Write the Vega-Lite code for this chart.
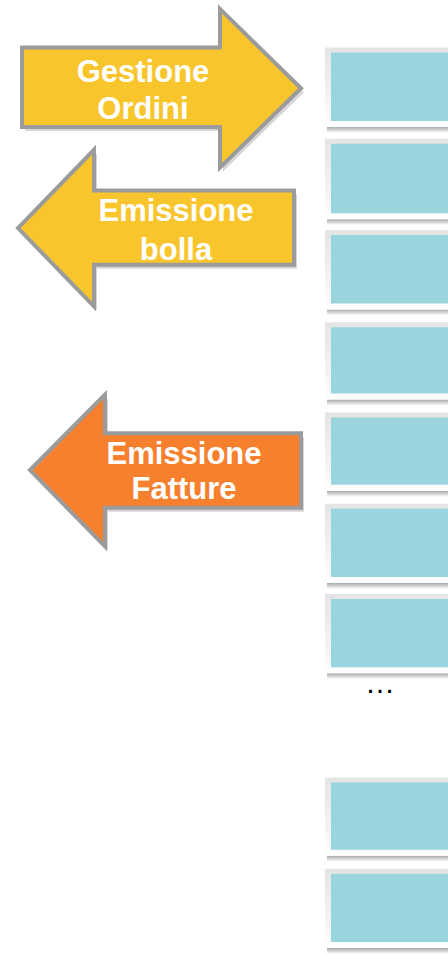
{
  "$schema": "https://vega.github.io/schema/vega-lite/v6.json",
  "width": 448,
  "height": 955,
  "padding": 0,
  "autosize": {"type": "fit", "contains": "padding"},
  "background": "#ffffff",
  "config": {"view": {"stroke": null}},
  "datasets": {
    "boxes": [
      {"box": 1, "top": 48, "bottom": 128},
      {"box": 2, "top": 140, "bottom": 221},
      {"box": 3, "top": 232, "bottom": 312},
      {"box": 4, "top": 325, "bottom": 403},
      {"box": 5, "top": 416, "bottom": 495},
      {"box": 6, "top": 508, "bottom": 588},
      {"box": 7, "top": 599, "bottom": 679},
      {"box": 8, "top": 784, "bottom": 863},
      {"box": 9, "top": 876, "bottom": 956}
    ],
    "arrows": [
      {"arrow": "Gestione Ordini", "i": 1, "x": 22, "y": 48},
      {"arrow": "Gestione Ordini", "i": 2, "x": 220, "y": 48},
      {"arrow": "Gestione Ordini", "i": 3, "x": 220, "y": 9},
      {"arrow": "Gestione Ordini", "i": 4, "x": 301, "y": 89},
      {"arrow": "Gestione Ordini", "i": 5, "x": 220, "y": 169},
      {"arrow": "Gestione Ordini", "i": 6, "x": 220, "y": 128},
      {"arrow": "Gestione Ordini", "i": 7, "x": 22, "y": 128},
      {"arrow": "Emissione bolla", "i": 1, "x": 18, "y": 230},
      {"arrow": "Emissione bolla", "i": 2, "x": 94, "y": 151},
      {"arrow": "Emissione bolla", "i": 3, "x": 94, "y": 192},
      {"arrow": "Emissione bolla", "i": 4, "x": 294, "y": 192},
      {"arrow": "Emissione bolla", "i": 5, "x": 294, "y": 267},
      {"arrow": "Emissione bolla", "i": 6, "x": 94, "y": 267},
      {"arrow": "Emissione bolla", "i": 7, "x": 94, "y": 309},
      {"arrow": "Emissione Fatture", "i": 1, "x": 30, "y": 474},
      {"arrow": "Emissione Fatture", "i": 2, "x": 105, "y": 398},
      {"arrow": "Emissione Fatture", "i": 3, "x": 105, "y": 437},
      {"arrow": "Emissione Fatture", "i": 4, "x": 301, "y": 437},
      {"arrow": "Emissione Fatture", "i": 5, "x": 301, "y": 512},
      {"arrow": "Emissione Fatture", "i": 6, "x": 105, "y": 512},
      {"arrow": "Emissione Fatture", "i": 7, "x": 105, "y": 551}
    ],
    "labels": [
      {"arrow": "Gestione Ordini", "label": "Gestione", "x": 143, "y": 83},
      {"arrow": "Gestione Ordini", "label": "Ordini", "x": 143, "y": 120},
      {"arrow": "Emissione bolla", "label": "Emissione", "x": 176, "y": 223},
      {"arrow": "Emissione bolla", "label": "bolla", "x": 176, "y": 262},
      {"arrow": "Emissione Fatture", "label": "Emissione", "x": 184, "y": 468},
      {"arrow": "Emissione Fatture", "label": "Fatture", "x": 184, "y": 503}
    ],
    "more": [
      {"label": "…", "x": 380, "y": 699}
    ]
  },
  "layer": [
    {
      "data": {"name": "boxes"},
      "mark": {"type": "rect", "fill": {"gradient": "linear", "x1": 0, "y1": 0, "x2": 0, "y2": 1, "stops": [{"offset": 0, "color": "#9a9a9a"}, {"offset": 1, "color": "#ffffff"}]}, "y2Offset": 6, "opacity": 0.85},
      "encoding": {
        "x": {"datum": 327, "type": "quantitative", "scale": {"domain": [0, 448], "nice": false, "zero": false}, "axis": null},
        "x2": {"datum": 448},
        "y": {"field": "bottom", "type": "quantitative", "scale": {"domain": [0, 955], "nice": false, "zero": false, "reverse": true}, "axis": null},
        "y2": {"field": "bottom"}
      }
    },
    {
      "data": {"name": "boxes"},
      "mark": {"type": "rect", "fill": {"gradient": "linear", "x1": 0, "y1": 0, "x2": 0, "y2": 1, "stops": [{"offset": 0, "color": "#e4e4e4"}, {"offset": 0.6, "color": "#f2f2f2"}, {"offset": 1, "color": "#ffffff"}]}},
      "encoding": {
        "x": {"datum": 325, "type": "quantitative", "scale": {"domain": [0, 448], "nice": false, "zero": false}, "axis": null},
        "x2": {"datum": 448},
        "y": {"field": "top", "type": "quantitative", "scale": {"domain": [0, 955], "nice": false, "zero": false, "reverse": true}, "axis": null},
        "y2": {"field": "bottom"}
      }
    },
    {
      "data": {"name": "boxes"},
      "mark": {"type": "rect", "fill": "#9ad4dc", "yOffset": 5, "y2Offset": -6},
      "encoding": {
        "x": {"datum": 331, "type": "quantitative", "scale": {"domain": [0, 448], "nice": false, "zero": false}, "axis": null},
        "x2": {"datum": 448},
        "y": {"field": "top", "type": "quantitative", "scale": {"domain": [0, 955], "nice": false, "zero": false, "reverse": true}, "axis": null},
        "y2": {"field": "bottom"}
      }
    },
    {
      "data": {"name": "arrows"},
      "mark": {"type": "line", "interpolate": "linear-closed", "fill": "#000000", "fillOpacity": 0.16, "strokeOpacity": 0, "xOffset": 3, "yOffset": 4},
      "encoding": {
        "x": {"field": "x", "type": "quantitative", "scale": {"domain": [0, 448], "nice": false, "zero": false}, "axis": null},
        "y": {"field": "y", "type": "quantitative", "scale": {"domain": [0, 955], "nice": false, "zero": false, "reverse": true}, "axis": null},
        "order": {"field": "i"},
        "detail": {"field": "arrow"}
      }
    },
    {
      "data": {"name": "arrows"},
      "mark": {"type": "line", "interpolate": "linear-closed", "stroke": "#9b9b9b", "strokeWidth": 4, "strokeJoin": "miter"},
      "encoding": {
        "x": {"field": "x", "type": "quantitative", "scale": {"domain": [0, 448], "nice": false, "zero": false}, "axis": null},
        "y": {"field": "y", "type": "quantitative", "scale": {"domain": [0, 955], "nice": false, "zero": false, "reverse": true}, "axis": null},
        "order": {"field": "i"},
        "detail": {"field": "arrow"},
        "fill": {"field": "arrow", "type": "nominal", "scale": {"domain": ["Gestione Ordini", "Emissione bolla", "Emissione Fatture"], "range": ["#f8c52d", "#f8c52d", "#f7802e"]}, "legend": null}
      }
    },
    {
      "data": {"name": "labels"},
      "mark": {"type": "text", "font": "Liberation Sans", "fontWeight": "bold", "baseline": "alphabetic", "align": "center", "fill": "#ffffff"},
      "encoding": {
        "x": {"field": "x", "type": "quantitative", "scale": {"domain": [0, 448], "nice": false, "zero": false}, "axis": null},
        "y": {"field": "y", "type": "quantitative", "scale": {"domain": [0, 955], "nice": false, "zero": false, "reverse": true}, "axis": null},
        "text": {"field": "label"},
        "size": {"field": "arrow", "type": "nominal", "scale": {"domain": ["Gestione Ordini", "Emissione bolla", "Emissione Fatture"], "range": [31, 31, 29]}, "legend": null}
      }
    },
    {
      "data": {"name": "more"},
      "mark": {"type": "text", "font": "Liberation Sans", "fontSize": 30, "baseline": "alphabetic", "align": "center", "fill": "#000000"},
      "encoding": {
        "x": {"field": "x", "type": "quantitative", "scale": {"domain": [0, 448], "nice": false, "zero": false}, "axis": null},
        "y": {"field": "y", "type": "quantitative", "scale": {"domain": [0, 955], "nice": false, "zero": false, "reverse": true}, "axis": null},
        "text": {"field": "label"}
      }
    }
  ]
}
